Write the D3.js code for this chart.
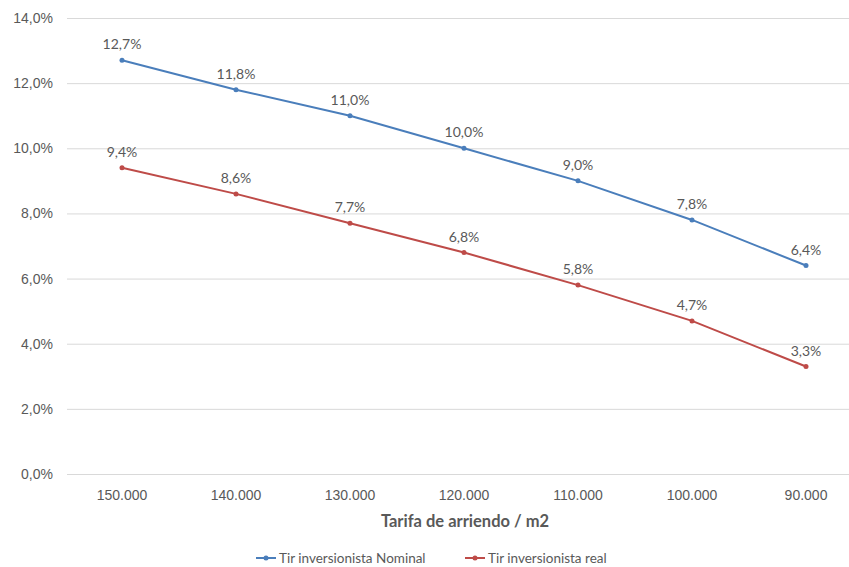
<!DOCTYPE html>
<html>
<head>
<meta charset="utf-8">
<script src="https://cdn.jsdelivr.net/npm/d3@7/dist/d3.min.js"></script>
<style>
  body { margin: 0; background: #fff; }
  svg { display: block; font-family: Lato, "Open Sans", sans-serif; }
  .axis text, .lbl, .legend text { fill: #595959; }
</style>
</head>
<body>
<svg width="849" height="567"></svg>
<script>
// Data
const categories = ["150.000", "140.000", "130.000", "120.000", "110.000", "100.000", "90.000"];
const nominal = [12.7, 11.8, 11.0, 10.0, 9.0, 7.8, 6.4];
const real = [9.4, 8.6, 7.7, 6.8, 5.8, 4.7, 3.3];
const yTicks = [0, 2, 4, 6, 8, 10, 12, 14];
const seriesNames = ["Tir inversionista Nominal", "Tir inversionista real"];
const seriesColors = ["#4a7ebb", "#be4b48"];

const series = [nominal, real].map(function(vals, i) {
  return { name: seriesNames[i], color: seriesColors[i], values: vals };
});

const fmt = function(v) { return v.toFixed(1).replace(".", ",") + "%"; };

const svg = d3.select("svg");

// Scales
const xScale = d3.scaleBand()
    .range([65, 863])
    .domain(categories);
const yScale = d3.scaleLinear()
    .range([474, 18])
    .domain([0, 14]);

// Gridlines
svg.append("g")
    .selectAll("line")
    .data(yTicks)
    .enter()
    .append("line")
    .attr("x1", 67)
    .attr("x2", 849)
    .attr("y1", function(d) { return yScale(d) + 0.5; })
    .attr("y2", function(d) { return yScale(d) + 0.5; })
    .attr("stroke", "#d9d9d9")
    .attr("stroke-width", 1);

// Y axis
const yAxis = svg.append("g")
    .attr("class", "axis")
    .attr("transform", "translate(55,0)")
    .call(d3.axisLeft(yScale).tickValues(yTicks).tickFormat(fmt).tickSize(0).tickPadding(2));
yAxis.select(".domain").remove();
yAxis.selectAll("text").style("font-size", "14px");

// X axis
const xAxis = svg.append("g")
    .attr("class", "axis")
    .attr("transform", "translate(0,484)")
    .call(d3.axisBottom(xScale).tickSize(0).tickPadding(6));
xAxis.select(".domain").remove();
xAxis.selectAll("text").style("font-size", "14px");

// X title
svg.append("text")
    .attr("class", "lbl")
    .attr("x", 465)
    .attr("y", 527)
    .attr("text-anchor", "middle")
    .style("font-size", "16.5px")
    .style("font-weight", "bold")
    .text("Tarifa de arriendo / m2");

// Lines
const line = d3.line()
    .x(function(d, i) { return xScale(categories[i]) + xScale.bandwidth() / 2; })
    .y(function(d) { return yScale(d); });

series.forEach(function(s) {
  svg.append("path")
      .datum(s.values)
      .attr("fill", "none")
      .attr("stroke", s.color)
      .attr("stroke-width", 2)
      .attr("d", line);

  svg.append("g")
      .selectAll("circle")
      .data(s.values)
      .enter()
      .append("circle")
      .attr("cx", function(d, i) { return xScale(categories[i]) + xScale.bandwidth() / 2; })
      .attr("cy", function(d) { return yScale(d); })
      .attr("r", 2.5)
      .attr("fill", s.color);

  svg.append("g")
      .selectAll("text")
      .data(s.values)
      .enter()
      .append("text")
      .attr("class", "lbl")
      .attr("x", function(d, i) { return xScale(categories[i]) + xScale.bandwidth() / 2; })
      .attr("y", function(d) { return yScale(d) - 11; })
      .attr("text-anchor", "middle")
      .style("font-size", "14px")
      .text(fmt);
});

// Legend
const legend = svg.append("g")
    .attr("class", "legend")
    .attr("transform", "translate(0,558)");
const legendX = [256, 465];
series.forEach(function(s, i) {
  const lg = legend.append("g").attr("transform", "translate(" + legendX[i] + ",0)");
  lg.append("line")
      .attr("x1", 0).attr("x2", 20)
      .attr("y1", 0).attr("y2", 0)
      .attr("stroke", s.color)
      .attr("stroke-width", 2);
  lg.append("circle")
      .attr("cx", 10).attr("cy", 0).attr("r", 2.5)
      .attr("fill", s.color);
  lg.append("text")
      .attr("x", 23)
      .attr("y", 5)
      .style("font-size", "13.5px")
      .text(s.name);
});
</script>
</body>
</html>
